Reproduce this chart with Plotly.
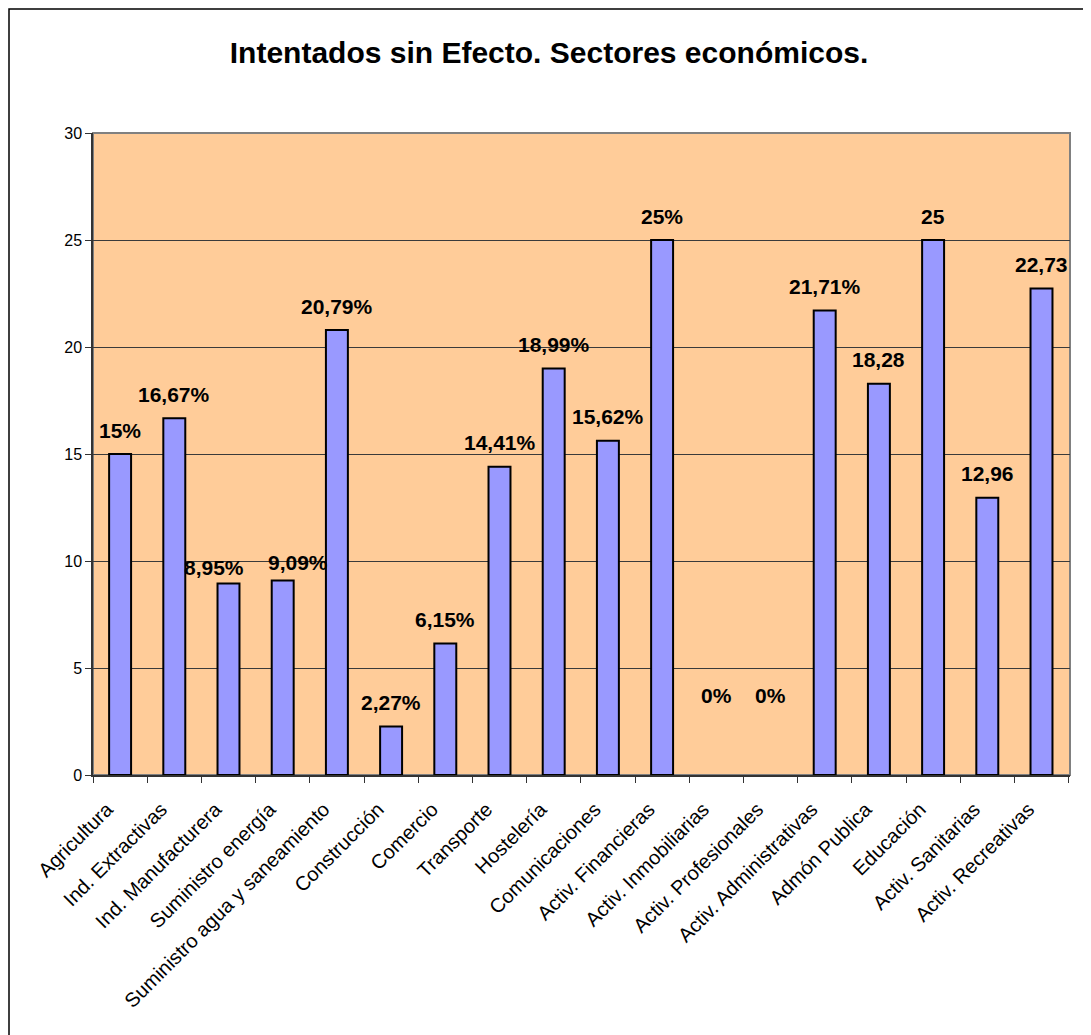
import plotly.graph_objects as go

sectores = ['Agricultura', 'Ind. Extractivas', 'Ind. Manufacturera', 'Suministro energía',
            'Suministro agua y saneamiento', 'Construcción', 'Comercio', 'Transporte',
            'Hostelería', 'Comunicaciones', 'Activ. Financieras', 'Activ. Inmobiliarias',
            'Activ. Profesionales', 'Activ. Administrativas', 'Admón Publica', 'Educación',
            'Activ. Sanitarias', 'Activ. Recreativas']
valores = [15, 16.67, 8.95, 9.09, 20.79, 2.27, 6.15, 14.41, 18.99, 15.62, 25, 0, 0,
           21.71, 18.28, 25, 12.96, 22.73]
etiquetas = ['15%', '16,67%', '8,95%', '9,09%', '20,79%', '2,27%', '6,15%', '14,41%',
             '18,99%', '15,62%', '25%', '0%', '0%', '21,71%', '18,28', '25', '12,96', '22,73']
y_ticks = [0, 5, 10, 15, 20, 25, 30]

# label nudges (px) where the original chart had them moved by hand
nudge = {'Ind. Manufacturera': (-15, -8), 'Suministro energía': (15, -6),
         'Activ. Inmobiliarias': (0, 56), 'Activ. Profesionales': (0, 56)}

# the page body adds 8px around the plot div
OFF = 8
W, H = 1091 - OFF, 1035 - OFF
ml, mr, mt, mb = 93 - OFF, 21, 133 - OFF, 260
pw, ph = W - ml - mr, H - mt - mb
font = 'Liberation Sans, Arial, sans-serif'

fig = go.Figure(go.Bar(x=sectores, y=valores, marker_color='#9999FF',
                       marker_line_color='black',
                       marker_line_width=[2 if v > 0 else 0 for v in valores]))

for s, v, t in zip(sectores, valores, etiquetas):
    dx, dy = nudge.get(s, (0, 0))
    fig.add_annotation(x=s, y=v, text='<b>' + t + '</b>', showarrow=False,
                       yanchor='middle', xshift=dx, yshift=24 + dy,
                       font=dict(family=font, size=21, color='black'))

# plot area border, then outer chart border (at the edge of the svg)
fig.add_shape(type='rect', xref='x domain', yref='y domain', x0=0, x1=1, y0=0, y1=1,
              line=dict(color='#808080', width=2), layer='below')
fig.add_shape(type='rect', xref='paper', yref='paper',
              x0=(1 - ml) / pw, x1=(W + 5 - ml) / pw,
              y0=-(mb + 5) / ph, y1=1 + (mt - 1) / ph,
              line=dict(color='black', width=1.5))

fig.update_layout(
    width=W, height=H,
    margin=dict(l=ml, r=mr, t=mt, b=mb),
    paper_bgcolor='white', plot_bgcolor='#FFCC99',
    bargap=0.595, showlegend=False,
    font=dict(family=font, color='black'),
    title=dict(text='<b>Intentados sin Efecto. Sectores económicos.</b>',
               x=(549 - OFF) / W, xref='container', xanchor='center',
               y=1 - (52 - OFF) / H, yref='container', yanchor='middle',
               font=dict(family=font, size=30, color='black')),
)
fig.update_xaxes(tickangle=-45, tickson='boundaries', ticks='outside', ticklen=6,
                 tickcolor='#333', showline=True, linecolor='#333', linewidth=1.5,
                 ticklabelstandoff=13, ticklabelshift=-13,
                 tickfont=dict(family=font, size=20, color='black'))
fig.update_yaxes(range=[0, 30], tickvals=y_ticks, ticks='outside', ticklen=6,
                 tickcolor='#333', showline=True, linecolor='#333', linewidth=1.5,
                 showgrid=True, gridcolor='#3a3a3a', gridwidth=1, zeroline=False,
                 tickfont=dict(family=font, size=16, color='black'))

fig.write_html('out.html')
